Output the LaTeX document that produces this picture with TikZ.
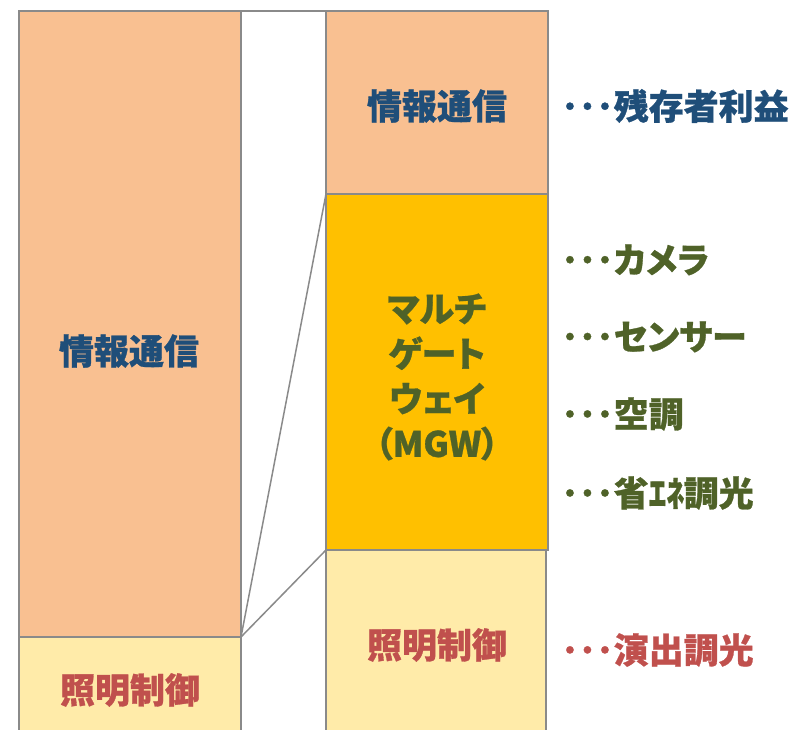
\documentclass[tikz,border=0pt]{standalone}
\usepackage{fontspec}
\newfontfamily\jp[RawFeature=+palt, BoldFeatures={FakeBold=0.8}]{Noto Sans CJK JP}
\definecolor{peach}{HTML}{F9C091}
\definecolor{pale}{HTML}{FFEBA9}
\definecolor{gold}{HTML}{FFC000}
\definecolor{edge}{HTML}{8A8A8A}
\definecolor{jblue}{HTML}{1F4E79}
\definecolor{jgreen}{HTML}{4F6228}
\definecolor{jred}{HTML}{C0504D}
\tikzset{
  box/.style={draw=edge, line width=2pt, rectangle, inner sep=0pt, outer sep=0pt, anchor=north west},
  lbl/.style={font=\jp\bfseries\fontsize{35}{35}\selectfont, inner sep=0pt},
  side/.style={lbl, anchor=west},
  link/.style={draw=edge, line width=1.5pt},
}
\begin{document}
\begin{tikzpicture}[x=1pt,y=-1pt]
\useasboundingbox (0,0) rectangle (801,730);
\clip (0,0) rectangle (801,730);
% left column
\node[box, fill=peach, minimum width=222pt, minimum height=626pt] (L1) at (19,11) {};
\node[box, fill=pale, minimum width=222pt, minimum height=130pt] (L2) at (19,637) {};
% right column
\node[box, fill=peach, minimum width=222pt, minimum height=184pt] (R1) at (326,11) {};
\node[box, fill=pale, minimum width=220pt, minimum height=220pt] (R3) at (326,550) {};
\node[box, fill=gold, minimum width=222pt, minimum height=356pt] (R2) at (326,194) {};
% top bridging line
\draw[draw=edge, line width=2.7pt] (L1.north east) -- (R1.north west);
% connectors
\draw[link] (L1.south east) -- (R2.north west);
\draw[link] (L1.south east) -- (R2.south west);
% box texts
\node[lbl, text=jblue] (t1) at (129,351) {情報通信};
\node[lbl, text=jred] (t2) at (130,690) {照明制御};
\node[lbl, text=jblue] (t3) at (437,106) {情報通信};
\node[lbl, text=jgreen, align=center, font=\jp\bfseries\fontsize{35}{45}\selectfont] (t4) at (437,377) {マルチ\\ゲート\\ウェイ\\（MGW）};
\node[lbl, text=jred] (t5) at (437,645) {照明制御};
% side labels
\node[side, text=jblue] (s1) at (561,106) {･･･残存者利益};
\node[side, text=jgreen] (s2) at (561,260) {･･･カメラ};
\node[side, text=jgreen] (s3) at (561,337) {･･･センサー};
\node[side, text=jgreen] (s4) at (561,414) {･･･空調};
\node[side, text=jgreen] (s5) at (561,493) {･･･省ｴﾈ調光};
\node[side, text=jred] (s6) at (561,650) {･･･演出調光};
\end{tikzpicture}
\end{document}
